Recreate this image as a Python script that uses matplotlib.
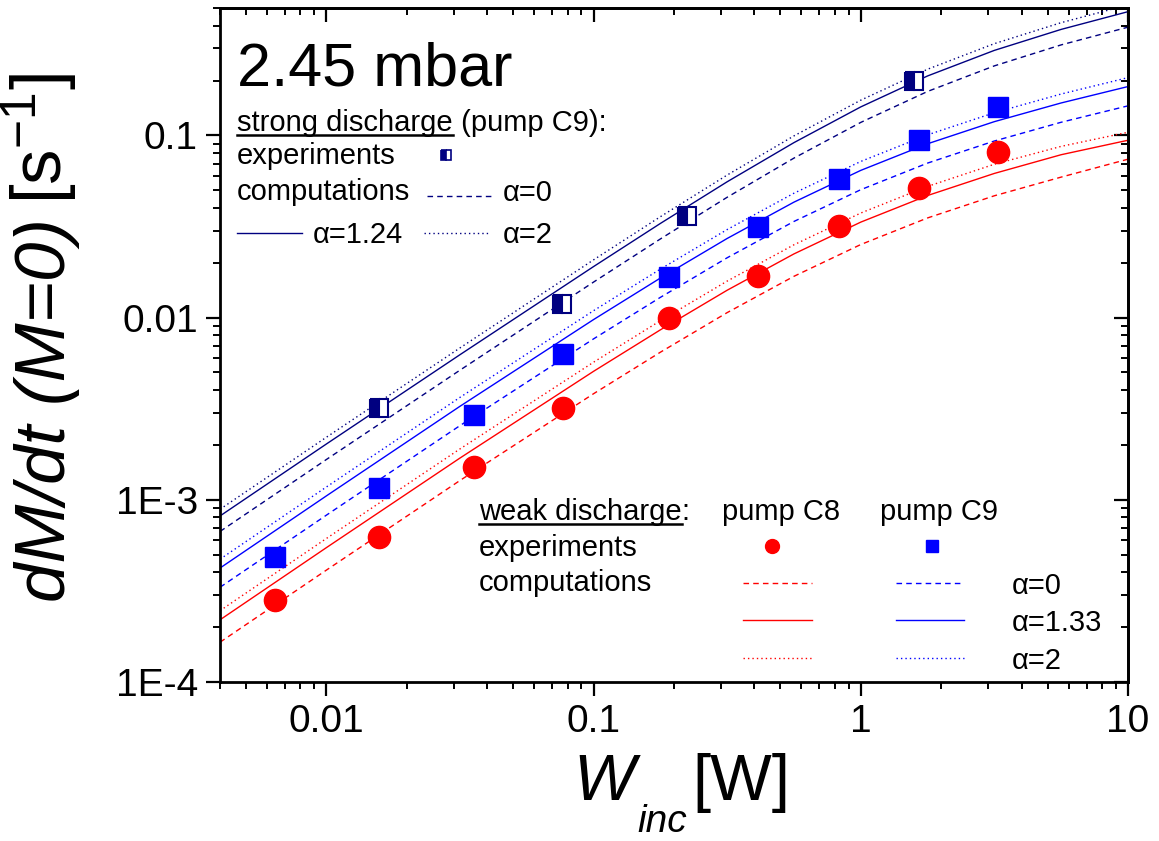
import matplotlib
matplotlib.use('Agg')
import matplotlib.pyplot as plt
from matplotlib.lines import Line2D
from matplotlib.ticker import FixedLocator, FixedFormatter, NullFormatter

plt.rcParams['font.family'] = ['Liberation Sans', 'DejaVu Sans']
plt.rcParams['mathtext.fontset'] = 'custom'
plt.rcParams['mathtext.rm'] = 'Liberation Sans'
plt.rcParams['mathtext.it'] = 'Liberation Sans:italic'
plt.rcParams['mathtext.bf'] = 'Liberation Sans:bold'

# computed curves
w_fit = [0.004, 0.01, 0.0316, 0.1, 0.178, 0.316, 0.562, 1, 1.78, 3.16, 5.62, 10]
strong_a0 = [6.70e-4, 1.663e-3, 5.14e-3, 1.566e-2, 2.703e-2, 4.571e-2, 0.0750, 0.1178,
             0.1743, 0.2406, 0.3137, 0.3924]
strong_a124 = [8.15e-4, 2.023e-3, 6.25e-3, 1.905e-2, 3.288e-2, 5.559e-2, 0.0912, 0.1433,
               0.2120, 0.2926, 0.3815, 0.4773]
strong_a2 = [8.87e-4, 2.203e-3, 6.81e-3, 2.074e-2, 3.580e-2, 6.053e-2, 0.0993, 0.1560,
             0.2308, 0.3186, 0.4154, 0.5197]
c9_a0 = [3.31e-4, 8.23e-4, 2.551e-3, 7.64e-3, 1.292e-2, 2.128e-2, 3.368e-2, 5.033e-2,
         7.048e-2, 9.31e-2, 0.1180, 0.1452]
c9_a133 = [4.22e-4, 1.050e-3, 3.256e-3, 9.75e-3, 1.649e-2, 2.716e-2, 4.299e-2, 6.425e-2,
           8.997e-2, 0.1189, 0.1506, 0.1853]
c9_a2 = [4.72e-4, 1.175e-3, 3.645e-3, 1.091e-2, 1.846e-2, 3.040e-2, 4.812e-2, 7.192e-2,
         0.1007, 0.1331, 0.1686, 0.2074]
c8_a0 = [1.653e-4, 4.11e-4, 1.275e-3, 3.82e-3, 6.46e-3, 1.064e-2, 1.684e-2, 2.517e-2,
         3.524e-2, 4.66e-2, 5.90e-2, 7.40e-2]
c8_a133 = [2.194e-4, 5.46e-4, 1.693e-3, 5.07e-3, 8.57e-3, 1.412e-2, 2.235e-2, 3.341e-2,
           4.678e-2, 6.18e-2, 7.83e-2, 9.40e-2]
c8_a2 = [2.462e-4, 6.13e-4, 1.900e-3, 5.69e-3, 9.62e-3, 1.585e-2, 2.508e-2, 3.748e-2,
         5.249e-2, 6.94e-2, 8.70e-2, 0.1040]

# experiments
w_c8 = [0.0064, 0.0158, 0.0358, 0.0766, 0.191, 0.411, 0.828, 1.65, 3.26]
r_c8 = [2.82e-4, 6.27e-4, 1.52e-3, 3.2e-3, 9.9e-3, 0.017, 0.032, 0.0512, 0.0807]
w_c9 = [0.0064, 0.0158, 0.0358, 0.0766, 0.191, 0.411, 0.828, 1.65, 3.26]
r_c9 = [4.86e-4, 1.16e-3, 2.93e-3, 6.34e-3, 0.0168, 0.0316, 0.0573, 0.094, 0.144]
w_strong = [0.0158, 0.076, 0.223, 1.58]
r_strong = [3.2e-3, 0.0119, 0.0359, 0.198]

x_ticks = [0.01, 0.1, 1, 10]
x_labels = ['0.01', '0.1', '1', '10']
y_ticks = [1e-4, 1e-3, 1e-2, 1e-1]
y_labels = ['1E-4', '1E-3', '0.01', '0.1']

NAVY = '#000080'
BLUE = '#0000ff'
RED = '#ff0000'
DASH = (0, (4, 3))
DOT = (0, (1, 2.2))

W, H = 1159, 841
fig = plt.figure(figsize=(W / 100, H / 100), dpi=100)
ax = fig.add_axes([220 / W, 1 - 682 / H, 908 / W, 674 / H])
ax.set_xscale('log')
ax.set_yscale('log')

for ys, col in [(strong_a0, NAVY), (c9_a0, BLUE), (c8_a0, RED)]:
    ax.plot(w_fit, ys, color=col, lw=1.0, ls=DASH)
for ys, col in [(strong_a124, NAVY), (c9_a133, BLUE), (c8_a133, RED)]:
    ax.plot(w_fit, ys, color=col, lw=1.0, ls='-')
for ys, col in [(strong_a2, NAVY), (c9_a2, BLUE), (c8_a2, RED)]:
    ax.plot(w_fit, ys, color=col, lw=1.0, ls=DOT)

ax.plot(w_c8, r_c8, 'o', color=RED, ms=16, mec=RED, zorder=5)
ax.plot(w_c9, r_c9, 's', color=BLUE, ms=14, mec=BLUE, zorder=5)
ax.plot(w_strong, r_strong, 's', ms=13, fillstyle='left', mfc=NAVY,
        mfcalt='white', mec=NAVY, mew=1.5, zorder=6)

ax.set_xlim(0.004, 10)
ax.set_ylim(1e-4, 0.5)

ax.xaxis.set_major_locator(FixedLocator(x_ticks))
ax.xaxis.set_major_formatter(FixedFormatter(x_labels))
ax.xaxis.set_minor_formatter(NullFormatter())
ax.yaxis.set_major_locator(FixedLocator(y_ticks))
ax.yaxis.set_major_formatter(FixedFormatter(y_labels))
ax.yaxis.set_minor_formatter(NullFormatter())

for s in ax.spines.values():
    s.set_linewidth(2)
ax.tick_params(which='major', direction='out', length=10, width=1.6, labelsize=28, pad=6)
ax.tick_params(which='minor', direction='out', length=5, width=1.4)

secx = ax.secondary_xaxis('top')
secx.tick_params(which='major', direction='in', length=10, width=1.6, labeltop=False)
secx.tick_params(which='minor', direction='in', length=5, width=1.4)
secy = ax.secondary_yaxis('right')
secy.tick_params(which='major', direction='in', length=10, width=1.6, labelright=False)
secy.tick_params(which='minor', direction='in', length=5, width=1.4)
secx.spines['top'].set_linewidth(2)
secy.spines['right'].set_linewidth(2)


def fx(x):
    return x / W


def fy(y):
    return 1 - y / H


# axis titles
ylab = fig.text(fx(80), fy(602), 'dM/dt (M=0)', fontsize=51, style='italic', rotation=90,
                ha='left', va='bottom', rotation_mode='anchor')
fig.canvas.draw()
bb = ylab.get_window_extent()
fig.text(fx(80), bb.y1 / H + 14 / H, '[s$^{-1}$]', fontsize=51, rotation=90,
         ha='left', va='bottom', rotation_mode='anchor')

fig.text(fx(573), fy(800), 'W', fontsize=47, style='italic', va='baseline')
fig.text(fx(637), fy(832), 'inc', fontsize=28, style='italic', va='baseline')
fig.text(fx(692), fy(800), '[W]', fontsize=47, va='baseline')

FS = 21

fig.text(fx(237), fy(85), '2.45 mbar', fontsize=44, va='baseline')


def underlined(x, y, s, rest):
    t = fig.text(fx(x), fy(y), s, fontsize=FS, va='baseline')
    fig.canvas.draw()
    bb = t.get_window_extent()
    fig.text(bb.x1 / W, fy(y), rest, fontsize=FS, va='baseline')
    fig.add_artist(Line2D([bb.x0 / W, bb.x1 / W], [fy(y + 4)] * 2, color='k', lw=1.8,
                          transform=fig.transFigure))


def seg(x0, x1, y, col, ls):
    fig.add_artist(Line2D([fx(x0), fx(x1)], [fy(y), fy(y)], color=col, lw=1.0, ls=ls,
                          transform=fig.transFigure))


def mark(x, y, m, col, ms, **kw):
    fig.add_artist(Line2D([fx(x)], [fy(y)], marker=m, color=col, mec=col, ms=ms, ls='none',
                          transform=fig.transFigure, **kw))


# strong discharge legend
underlined(237, 131, 'strong discharge', ' (pump C9):')
fig.text(fx(237), fy(164), 'experiments', fontsize=FS, va='baseline')
mark(446, 155, 's', NAVY, 7.5, fillstyle='left', mfc=NAVY, mfcalt='white', mew=1.2)
fig.text(fx(237), fy(200), 'computations', fontsize=FS, va='baseline')
seg(427, 493, 196, NAVY, DASH)
fig.text(fx(503), fy(201), 'α=0', fontsize=FS, va='baseline')
seg(237, 302, 233, NAVY, '-')
fig.text(fx(313), fy(243), 'α=1.24', fontsize=FS, va='baseline')
seg(424, 489, 233, NAVY, DOT)
fig.text(fx(503), fy(243), 'α=2', fontsize=FS, va='baseline')

# weak discharge legend
underlined(479, 520, 'weak discharge', ':')
fig.text(fx(722), fy(520), 'pump C8', fontsize=FS, va='baseline')
fig.text(fx(880), fy(520), 'pump C9', fontsize=FS, va='baseline')
fig.text(fx(479), fy(556), 'experiments', fontsize=FS, va='baseline')
mark(772, 546, 'o', RED, 10)
mark(932, 546, 's', BLUE, 9)
fig.text(fx(479), fy(591), 'computations', fontsize=FS, va='baseline')
for y, ls in [(583, DASH), (620, '-'), (658, DOT)]:
    seg(743, 812, y, RED, ls)
    seg(896, 964, y, BLUE, ls)
fig.text(fx(1012), fy(594), 'α=0', fontsize=FS, va='baseline')
fig.text(fx(1012), fy(631), 'α=1.33', fontsize=FS, va='baseline')
fig.text(fx(1012), fy(669), 'α=2', fontsize=FS, va='baseline')

fig.savefig('out.png', dpi=100)
